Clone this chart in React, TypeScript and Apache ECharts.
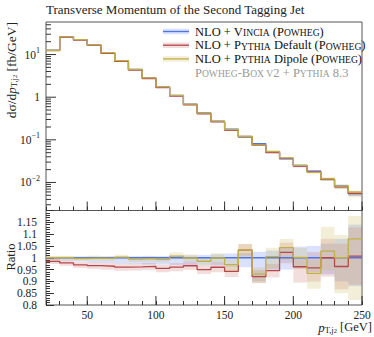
import React, { useEffect, useRef } from 'react';
import * as echarts from 'echarts';

// Bin edges in GeV
const binEdges = [20, 30, 40, 50, 60, 70, 80, 90, 100, 110, 120, 130, 140, 150, 160, 170, 180, 190, 200, 210, 220, 230, 240, 250];

// dσ/dpT [fb/GeV]
const vincia = [12.6, 26.0, 22.4, 16.9, 11.1, 7.2, 4.5, 2.85, 1.75, 1.1, 0.686, 0.43, 0.274, 0.178, 0.116, 0.081, 0.053, 0.036, 0.025, 0.0185, 0.0118, 0.0082, 0.0055];
const pythiaDefault = [12.41, 25.43, 21.73, 16.34, 10.7, 6.912, 4.325, 2.745, 1.671, 1.056, 0.6627, 0.4085, 0.263, 0.1677, 0.1197, 0.07452, 0.05009, 0.03683, 0.02405, 0.0177, 0.0118, 0.007897, 0.005539];
const pythiaDipole = [12.6, 26.0, 22.33, 16.88, 11.07, 7.222, 4.473, 2.839, 1.738, 1.108, 0.6853, 0.4236, 0.2737, 0.1728, 0.1198, 0.07541, 0.05327, 0.03755, 0.02505, 0.01728, 0.01213, 0.0082, 0.00594];

// relative uncertainties (up / down)
const vinciaUp = [0.005, 0.005, 0.005, 0.005, 0.005, 0.005, 0.005, 0.006, 0.006, 0.008, 0.01, 0.012, 0.015, 0.018, 0.02, 0.025, 0.03, 0.04, 0.047, 0.05, 0.06, 0.08, 0.14];
const vinciaDn = [0.01, 0.012, 0.015, 0.02, 0.022, 0.025, 0.025, 0.028, 0.028, 0.03, 0.03, 0.03, 0.032, 0.038, 0.04, 0.1, 0.05, 0.05, 0.045, 0.06, 0.07, 0.1, 0.12];
const defaultUp = [0.012, 0.013, 0.014, 0.015, 0.015, 0.016, 0.016, 0.016, 0.017, 0.018, 0.018, 0.02, 0.022, 0.025, 0.025, 0.03, 0.03, 0.04, 0.04, 0.07, 0.08, 0.1, 0.12];
const defaultDn = [0.012, 0.013, 0.014, 0.015, 0.015, 0.016, 0.016, 0.016, 0.017, 0.018, 0.018, 0.02, 0.022, 0.025, 0.025, 0.03, 0.03, 0.045, 0.07, 0.06, 0.08, 0.1, 0.12];
const dipoleUp = [0.008, 0.008, 0.008, 0.01, 0.01, 0.01, 0.012, 0.012, 0.012, 0.015, 0.015, 0.018, 0.02, 0.025, 0.025, 0.03, 0.037, 0.035, 0.04, 0.06, 0.1, 0.096, 0.09];
const dipoleDn = [0.008, 0.008, 0.008, 0.01, 0.01, 0.01, 0.012, 0.012, 0.012, 0.015, 0.015, 0.018, 0.02, 0.03, 0.03, 0.04, 0.05, 0.05, 0.05, 0.07, 0.08, 0.15, 0.24];

// axis tick values
const xMajorTicks = [50, 100, 150, 200, 250];
const logMajorTicks = [0.01, 0.1, 1, 10];
const logMinorTicks = [0.003, 0.004, 0.005, 0.006, 0.007, 0.008, 0.009, 0.02, 0.03, 0.04, 0.05, 0.06, 0.07, 0.08, 0.09, 0.2, 0.3, 0.4, 0.5, 0.6, 0.7, 0.8, 0.9, 2, 3, 4, 5, 6, 7, 8, 9, 20, 30, 40, 50];

const X_MIN = 20;
const X_MAX = 250;
const Y_MIN = 0.0022;
const Y_MAX = 58;
const R_MIN = 0.8;
const R_MAX = 1.2;

const FONT = "'Liberation Serif', 'DejaVu Serif', serif";

const COLORS = {
  blue: { line: '#4f74e3', band: 'rgba(80,120,240,0.22)' },
  red: { line: '#b5474a', band: 'rgba(190,70,70,0.18)' },
  yellow: { line: '#bfb04a', band: 'rgba(200,185,90,0.24)' },
};

function stepData(vals: number[]) {
  return binEdges.map((e, i) => [e, vals[Math.min(i, vals.length - 1)]]);
}

function bandData(vals: number[], up: number[], dn: number[]) {
  return vals.map((v, i) => [binEdges[i], binEdges[i + 1], v * (1 - dn[i]), v * (1 + up[i])]);
}

function bandSeries(name: string, data: number[][], color: string, idx: number) {
  return {
    name,
    type: 'custom',
    xAxisIndex: idx,
    yAxisIndex: idx,
    silent: true,
    z: 1,
    data,
    encode: { x: [0, 1], y: [2, 3] },
    renderItem: (params: any, api: any) => {
      const p0 = api.coord([api.value(0), api.value(3)]);
      const p1 = api.coord([api.value(1), api.value(2)]);
      const cs = params.coordSys;
      const shape = echarts.graphic.clipRectByRect(
        { x: p0[0], y: p0[1], width: p1[0] - p0[0], height: p1[1] - p0[1] },
        { x: cs.x, y: cs.y, width: cs.width, height: cs.height }
      );
      if (!shape) return null;
      return { type: 'rect', shape, style: { fill: color } };
    },
  };
}

function lineSeries(name: string, data: number[][], color: string, idx: number, z: number) {
  return {
    name,
    type: 'line',
    xAxisIndex: idx,
    yAxisIndex: idx,
    step: 'end',
    showSymbol: false,
    silent: true,
    z,
    data,
    lineStyle: { color, width: 1.3 },
  };
}

function yTickSeries(values: number[], len: number) {
  return {
    type: 'custom',
    xAxisIndex: 0,
    yAxisIndex: 0,
    silent: true,
    z: 5,
    data: values.map((v) => [X_MIN, v]),
    renderItem: (_p: any, api: any) => {
      const p = api.coord([api.value(0), api.value(1)]);
      return { type: 'line', shape: { x1: p[0], y1: p[1], x2: p[0] + len, y2: p[1] }, style: { stroke: '#333', lineWidth: 1 } };
    },
  };
}

function xTickSeries(idx: number, yBase: number) {
  return {
    type: 'custom',
    xAxisIndex: idx,
    yAxisIndex: idx,
    silent: true,
    z: 5,
    data: xMajorTicks.map((v) => [v, yBase]),
    renderItem: (_p: any, api: any) => {
      const p = api.coord([api.value(0), api.value(1)]);
      return { type: 'line', shape: { x1: p[0], y1: p[1], x2: p[0], y2: p[1] - 9 }, style: { stroke: '#333', lineWidth: 1 } };
    },
  };
}

const scRich = {
  n: { fontFamily: FONT, fontSize: 12.5, lineHeight: 14, fill: '#111' },
  sc: { fontFamily: FONT, fontSize: 9.6, lineHeight: 14, verticalAlign: 'bottom', padding: [0, 0, 1, 0], fill: '#111' },
  gn: { fontFamily: FONT, fontSize: 12.5, lineHeight: 14, fill: '#9a9a9a' },
  gsc: { fontFamily: FONT, fontSize: 9.6, lineHeight: 14, verticalAlign: 'bottom', padding: [0, 0, 1, 0], fill: '#9a9a9a' },
};

export default function App() {
  const ref = useRef<HTMLDivElement>(null);

  useEffect(() => {
    if (!ref.current) return;
    const chart = echarts.init(ref.current, undefined, { renderer: 'svg' });

    const rDefault = pythiaDefault.map((v, i) => v / vincia[i]);
    const rDipole = pythiaDipole.map((v, i) => v / vincia[i]);
    const rVincia = vincia.map(() => 1);

    const legendY = [31.5, 45.2, 58.9];
    const legendItems = [
      { c: COLORS.blue, text: '{n|NLO + V}{sc|INCIA}{n| (P}{sc|OWHEG}{n|)}' },
      { c: COLORS.red, text: '{n|NLO + P}{sc|YTHIA}{n| Default (P}{sc|OWHEG}{n|)}' },
      { c: COLORS.yellow, text: '{n|NLO + P}{sc|YTHIA}{n| Dipole (P}{sc|OWHEG}{n|)}' },
    ];
    const legendGraphics: any[] = [];
    legendItems.forEach((it, i) => {
      const y = legendY[i];
      legendGraphics.push({ type: 'rect', shape: { x: 163, y: y - 2.8, width: 26, height: 5.6 }, style: { fill: it.c.band } });
      legendGraphics.push({ type: 'line', shape: { x1: 163, y1: y, x2: 189, y2: y }, style: { stroke: it.c.line, lineWidth: 1.3 } });
      legendGraphics.push({ type: 'text', x: 195, y, style: { text: it.text, rich: scRich, fill: '#111', verticalAlign: 'middle', textAlign: 'left' } });
    });
    legendGraphics.push({
      type: 'text', x: 195, y: 72.6,
      style: { text: '{gn|P}{gsc|OWHEG}{gn|-B}{gsc|OX V}{gn|2 + P}{gsc|YTHIA}{gn| 8.3}', rich: scRich, fill: '#9a9a9a', verticalAlign: 'middle', textAlign: 'left' },
    });

    const subRich = {
      i: { fontFamily: FONT, fontSize: 13, fontStyle: 'italic', lineHeight: 14, fill: '#222' },
      s: { fontFamily: FONT, fontSize: 8.5, lineHeight: 8, verticalAlign: 'bottom', fill: '#222' },
      ss: { fontFamily: FONT, fontSize: 6.5, lineHeight: 5, verticalAlign: 'bottom', fill: '#222' },
    };

    const option: any = {
      animation: false,
      grid: [
        { left: 46, top: 22, width: 316, height: 188.5, show: true, borderColor: '#555', borderWidth: 1, backgroundColor: 'transparent' },
        { left: 46, top: 210.5, width: 316, height: 94.5, show: true, borderColor: '#555', borderWidth: 1, backgroundColor: 'transparent' },
      ],
      xAxis: [
        {
          gridIndex: 0, type: 'value', min: X_MIN, max: X_MAX, interval: 10,
          axisLine: { show: false }, splitLine: { show: false },
          axisTick: { show: true, inside: true, length: 4, lineStyle: { color: '#333' } },
          axisLabel: { show: false },
        },
        {
          gridIndex: 1, type: 'value', min: X_MIN, max: X_MAX, interval: 10,
          axisLine: { show: false }, splitLine: { show: false },
          axisTick: { show: true, inside: true, length: 4, lineStyle: { color: '#333' } },
          axisLabel: {
            show: true, margin: 4, fontFamily: FONT, fontSize: 11.5, color: '#222',
            formatter: (v: number) => (v % 50 === 0 ? String(v) : ''),
          },
        },
      ],
      yAxis: [
        {
          gridIndex: 0, type: 'log', min: Y_MIN, max: Y_MAX, logBase: 10,
          axisLine: { show: false }, splitLine: { show: false }, axisTick: { show: false },
          axisLabel: {
            show: true, margin: 6, fontFamily: FONT, fontSize: 11.5, color: '#222', lineHeight: 16,
            showMinLabel: false, showMaxLabel: false,
            formatter: (v: number) => {
              const e = Math.log10(v);
              const r = Math.round(e);
              if (Math.abs(e - r) > 1e-6) return '';
              if (r === 0) return '1';
              return '10{sup|' + (r < 0 ? '\u2212' + -r : String(r)) + '}';
            },
            rich: {
              sup: { fontFamily: FONT, fontSize: 8, lineHeight: 8, verticalAlign: 'top', color: '#222' },
            },
          },
        },
        {
          gridIndex: 1, type: 'value', min: R_MIN, max: R_MAX, interval: 0.05,
          axisLine: { show: false }, splitLine: { show: false },
          axisTick: { show: true, inside: true, length: 8, lineStyle: { color: '#333' } },
          minorTick: { show: true, splitNumber: 5, length: 4, lineStyle: { color: '#333' } },
          axisLabel: {
            show: true, margin: 9, fontFamily: FONT, fontSize: 11.5, color: '#222',
            formatter: (v: number) => (Math.abs(v - R_MAX) < 1e-6 ? '' : String(Math.round(v * 100) / 100)),
          },
        },
      ],
      series: [
        bandSeries('vb', bandData(vincia, vinciaUp, vinciaDn), COLORS.blue.band, 0),
        bandSeries('rb', bandData(pythiaDefault, defaultUp, defaultDn), COLORS.red.band, 0),
        bandSeries('yb', bandData(pythiaDipole, dipoleUp, dipoleDn), COLORS.yellow.band, 0),
        lineSeries('v', stepData(vincia), COLORS.blue.line, 0, 3),
        lineSeries('r', stepData(pythiaDefault), COLORS.red.line, 0, 3),
        lineSeries('y', stepData(pythiaDipole), COLORS.yellow.line, 0, 3),
        bandSeries('vbr', bandData(rVincia, vinciaUp, vinciaDn), COLORS.blue.band, 1),
        bandSeries('rbr', bandData(rDefault, defaultUp, defaultDn), COLORS.red.band, 1),
        bandSeries('ybr', bandData(rDipole, dipoleUp, dipoleDn), COLORS.yellow.band, 1),
        lineSeries('vr', stepData(rVincia), COLORS.blue.line, 1, 3),
        lineSeries('rr', stepData(rDefault), COLORS.red.line, 1, 3),
        lineSeries('yr', stepData(rDipole), COLORS.yellow.line, 1, 3),
        yTickSeries(logMajorTicks, 10),
        yTickSeries(logMinorTicks, 5),
        xTickSeries(0, Y_MIN),
        xTickSeries(1, R_MIN),
      ],
      graphic: [
        {
          type: 'text', x: 46, y: 9,
          style: { text: 'Transverse Momentum of the Second Tagging Jet', fontFamily: FONT, fontSize: 13, fill: '#222', verticalAlign: 'middle', textAlign: 'left' },
        },
        {
          type: 'text', x: 11, y: 22, rotation: Math.PI / 2,
          style: {
            text: 'd\u03c3/d{i|p}{s|T,j}{ss|2} [fb/GeV]',
            fontFamily: FONT, fontSize: 13.5, fill: '#222', textAlign: 'right', verticalAlign: 'middle',
            rich: subRich,
          },
        },
        {
          type: 'text', x: 11, y: 257, rotation: Math.PI / 2,
          style: { text: 'Ratio', fontFamily: FONT, fontSize: 12.5, fill: '#222', textAlign: 'center', verticalAlign: 'middle' },
        },
        {
          type: 'text', x: 372, y: 327,
          style: {
            text: '{i|p}{s|T,j}{ss|2} [GeV]',
            fontFamily: FONT, fontSize: 12.5, fill: '#222', textAlign: 'right', verticalAlign: 'middle',
            rich: subRich,
          },
        },
        ...legendGraphics,
      ],
    };

    chart.setOption(option);
    return () => chart.dispose();
  }, []);

  return <div ref={ref} style={{ width: 374, height: 337, position: 'absolute', left: 0, top: 0 }} />;
}
